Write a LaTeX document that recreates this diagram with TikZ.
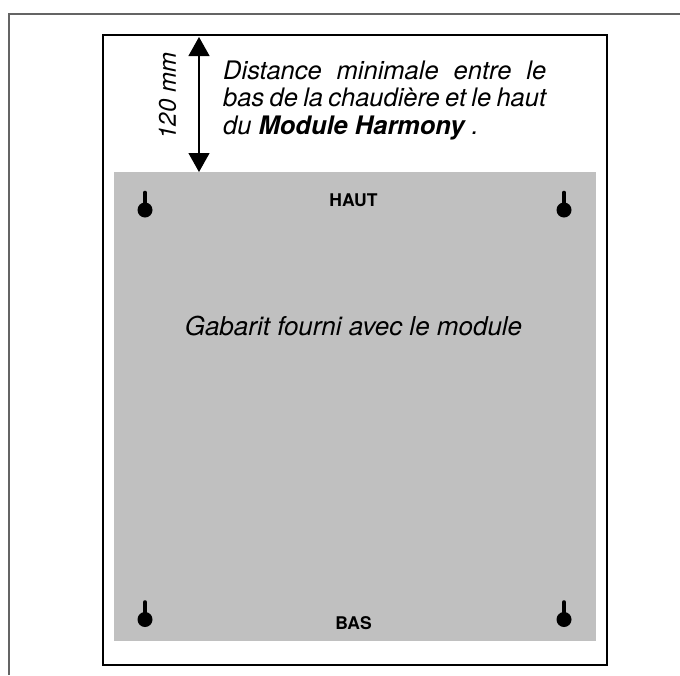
\documentclass[tikz,border=0pt]{standalone}
\usepackage{fontspec}
\setmainfont{TeX Gyre Heros}
\usetikzlibrary{arrows.meta}
\definecolor{gabarit}{RGB}{192,192,192}
\definecolor{cadre}{RGB}{100,100,100}

\begin{document}
\begin{tikzpicture}[x=1pt,y=-1pt,
		texte/.style={font=\fontsize{25.5}{27.5}\selectfont\itshape, inner sep=0pt, align=left},
		repere/.style={font=\fontsize{17.5}{20}\selectfont\bfseries, inner sep=0pt},
		cote/.style={{Triangle[width=21pt,length=19pt]}-{Triangle[width=21pt,length=19pt]}, line width=1.2pt}]
			\useasboundingbox (0,0) rectangle (680,675);
			% cadres
			\draw [cadre, line width=1.5pt] (9,675) -- (9,14) -- (680,14);
			\draw [line width=1.2pt] (103,35) rectangle (607,665);
			\fill [gabarit] (114,172) rectangle (596,641);

			% trous de fixation
			\foreach \kx/\ky in {145/210, 564/210, 145/619.5, 564/619.5}{
				\draw [line width=4.7pt, line cap=round] (\kx,\ky) -- (\kx,\ky-17);
				\fill (\kx,\ky) circle [radius=7.5];
			}

			% cote 120 mm
			\coordinate (hautcote) at (199,37);
			\coordinate (bascote) at (199,172);
			\draw [cote] (hautcote) -- (bascote);
			\node [font=\fontsize{24}{26}\selectfont\itshape, rotate=90, inner sep=0pt] (distance) at (167.5,96) {120 mm};

			\node [texte, anchor=north west] (legende) at (223,60.5) {\makebox[323pt][s]{Distance minimale entre le}\\
				\makebox[323pt][s]{bas de la chaudière et le haut}\\
				du \textbf{Module Harmony} .};

			\node [repere, anchor=base] (haut) at (353.5,206) {HAUT};
			\node [repere, anchor=base] (bas) at (353.5,629) {BAS};
			\node [font=\fontsize{26}{30}\selectfont\itshape, inner sep=0pt, anchor=base] (module) at (353.5,335) {Gabarit fourni avec le module};
			\end{tikzpicture}
\end{document}
